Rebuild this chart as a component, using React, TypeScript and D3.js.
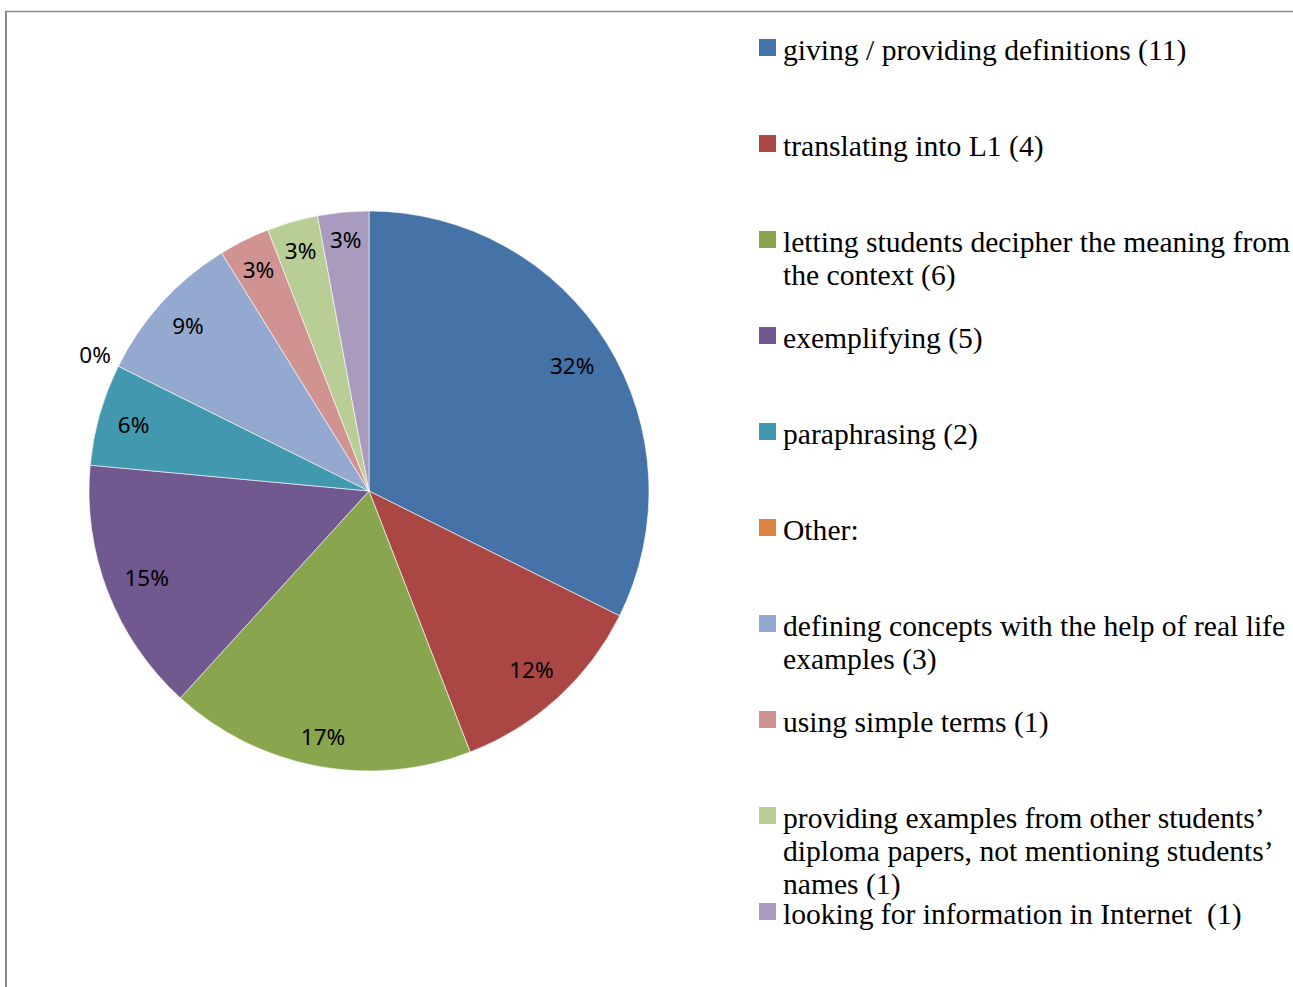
import React from "react";
import * as d3 from "d3";

const categories = [
  "giving / providing definitions (11)",
  "translating into L1 (4)",
  "letting students decipher the meaning from the context (6)",
  "exemplifying (5)",
  "paraphrasing (2)",
  "Other:",
  "defining concepts with the help of real life examples (3)",
  "using simple terms (1)",
  "providing examples from other students’ diploma papers, not mentioning students’ names (1)",
  "looking for information in Internet  (1)",
];
const legendLines = [
  ["giving / providing definitions (11)"],
  ["translating into L1 (4)"],
  ["letting students decipher the meaning from", "the context (6)"],
  ["exemplifying (5)"],
  ["paraphrasing (2)"],
  ["Other:"],
  ["defining concepts with the help of real life", "examples (3)"],
  ["using simple terms (1)"],
  ["providing examples from other students’", "diploma papers, not mentioning students’", "names (1)"],
  ["looking for information in Internet \u00a0(1)"],
];
const values = [11, 4, 6, 5, 2, 0, 3, 1, 1, 1];
const percentLabels = ["32%", "12%", "17%", "15%", "6%", "0%", "9%", "3%", "3%", "3%"];
const colors = [
  "#4572A7", "#AA4643", "#89A54E", "#71588F", "#4198AF",
  "#DB843D", "#93A9CF", "#D19392", "#B9CD96", "#A99BBD",
];

export default function App() {
  const W = 1293, H = 987;
  const cx = 369, cy = 491, R = 280;
  const pie = d3.pie<number>().sort(null).value((d) => d)(values);
  const arc = d3.arc<d3.PieArcDatum<number>>().innerRadius(0).outerRadius(R);
  const labelFs = 22.5;

  const legendX = 759;
  const legendY0 = 60;
  const legendStep = 96;
  const lineH = 33;

  return (
    <svg width={W} height={H} style={{ position: "absolute", left: 0, top: 0, background: "#fff" }}>
      <line x1={6} y1={11} x2={6} y2={H} stroke="#8a8a8a" strokeWidth={2} />
      <line x1={5} y1={11.5} x2={W} y2={11.5} stroke="#8a8a8a" strokeWidth={1.5} />
      <g transform={`translate(${cx},${cy})`}>
        {pie.map((p, i) =>
          p.value > 0 ? (
            <path key={i} d={arc(p) || ""} fill={colors[i]} stroke="#ffffff" strokeWidth={0.6} />
          ) : null
        )}
        {pie.map((p, i) => {
          const a = (p.startAngle + p.endAngle) / 2;
          const ux = Math.sin(a), uy = -Math.cos(a);
          const txt = percentLabels[i];
          const w = labelFs * (0.572 * (txt.length - 1) + 0.823);
          const h = 16;
          let r;
          if (p.value > 0) {
            const ext = Math.abs(ux) * w / 2 + Math.abs(uy) * h / 2;
            r = 262 - ext;
          } else {
            r = 306;
          }
          return (
            <text
              key={"l" + i}
              x={r * ux}
              y={r * uy}
              textAnchor="middle"
              dominantBaseline="central"
              fontFamily="'Noto Sans', 'Open Sans', sans-serif"
              fontSize={labelFs}
              fill="#000"
            >
              {txt}
            </text>
          );
        })}
      </g>
      <g>
        {categories.map((c, i) => {
          const by = legendY0 + i * legendStep;
          return (
            <g key={"g" + i}>
              <rect x={legendX} y={by - 21} width={17} height={17} fill={colors[i]} />
              <text
                x={legendX + 24}
                y={by}
                fontFamily="'Liberation Serif', 'Times New Roman', serif"
                fontSize={29.6}
                fill="#000"
              >
                {legendLines[i].map((ln, j) => (
                  <tspan key={j} x={legendX + 24} y={by + j * lineH}>
                    {ln}
                  </tspan>
                ))}
              </text>
            </g>
          );
        })}
      </g>
    </svg>
  );
}
